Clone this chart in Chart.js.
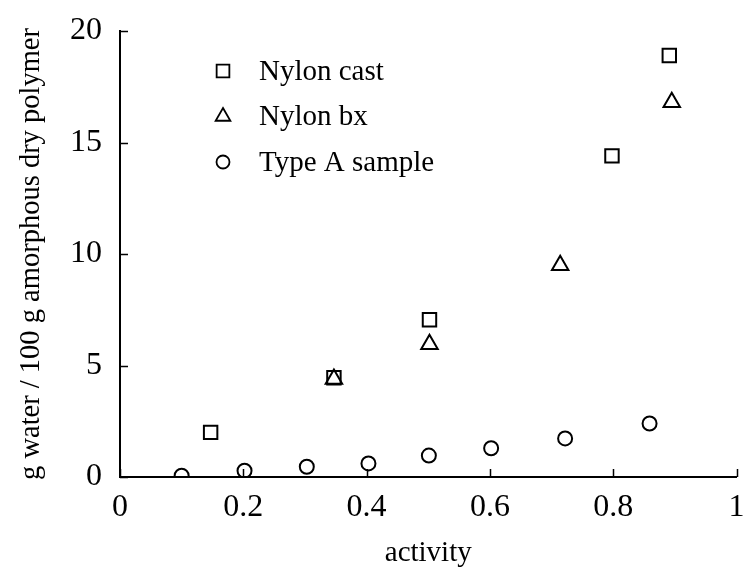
<!DOCTYPE html>
<html>
<head>
<meta charset="utf-8">
<script src="https://cdn.jsdelivr.net/npm/chart.js@4/dist/chart.umd.min.js"></script>
<style>
  html, body { margin: 0; padding: 0; background: #fff; }
  #wrap { width: 748px; height: 571px; }
</style>
</head>
<body>
<div id="wrap"><canvas id="c" width="748" height="571"></canvas></div>
<script>
// ---- data ----
const nylonCastX = [0.147, 0.347, 0.502, 0.798, 0.891];
const nylonCastY = [2.0, 4.45, 7.05, 14.4, 18.9];
const nylonBxX = [0.347, 0.502, 0.714, 0.895];
const nylonBxY = [4.4, 5.95, 9.5, 16.8];
const typeAX = [0.100, 0.202, 0.303, 0.403, 0.501, 0.602, 0.722, 0.859];
const typeAY = [0.06, 0.28, 0.46, 0.61, 0.96, 1.29, 1.73, 2.4];
const seriesNames = ['Nylon cast', 'Nylon bx', 'Type A sample'];
const xTickLabels = ['0', '0.2', '0.4', '0.6', '0.8', '1'];
const yTickLabels = ['0', '5', '10', '15', '20'];
const xTitle = 'activity';
const yTitle = 'g water / 100 g amorphous dry polymer';

const toPts = (xs, ys) => xs.map((x, i) => ({ x: x, y: ys[i] }));
const SERIF = "'Liberation Serif', 'DejaVu Serif', serif";

const legendMarkers = [
  { style: 'rect', radius: 9 },
  { style: 'triangle', radius: 8.5 },
  { style: 'circle', radius: 6.5 }
];

const insideLegend = {
  id: 'insideLegend',
  afterDatasetsDraw(chart) {
    const ctx = chart.ctx;
    ctx.save();
    ctx.lineWidth = 1.8;
    ctx.textBaseline = 'middle';
    ctx.textAlign = 'left';
    const mx = 223, tx = 259, y0 = 71, dy = 45.5;
    chart.data.datasets.forEach((ds, i) => {
      const y = y0 + i * dy;
      ctx.strokeStyle = '#000';
      ctx.fillStyle = 'rgba(0,0,0,0)';
      ctx.lineWidth = 1.8;
      Chart.helpers.drawPoint(ctx, { pointStyle: legendMarkers[i].style, radius: legendMarkers[i].radius, borderWidth: 1.8, rotation: 0 }, mx, y);
      ctx.fillStyle = '#000';
      ctx.font = '29px ' + SERIF;
      ctx.fillText(ds.label, tx, y + 1);
    });
    ctx.restore();
  }
};

const inwardTicks = {
  id: 'inwardTicks',
  afterDraw(chart) {
    const ctx = chart.ctx;
    const xs = chart.scales.x, ys = chart.scales.y;
    const area = chart.chartArea;
    ctx.save();
    ctx.strokeStyle = '#000';
    ctx.lineWidth = 1.5;
    ctx.beginPath();
    ys.ticks.forEach(t => {
      const py = Math.round(ys.getPixelForValue(t.value)) + 0.5;
      ctx.moveTo(area.left, py);
      ctx.lineTo(area.left + 8, py);
    });
    xs.ticks.forEach(t => {
      const px = Math.round(xs.getPixelForValue(t.value)) + 0.5;
      ctx.moveTo(px, area.bottom);
      ctx.lineTo(px, area.bottom - 8);
    });
    ctx.stroke();
    ctx.restore();
  }
};

const mkDs = (label, pts, style, r) => ({
  label: label,
  data: pts,
  pointStyle: style,
  pointRadius: r,
  pointHoverRadius: r,
  pointBorderWidth: 2,
  pointBorderColor: '#000',
  pointBackgroundColor: 'rgba(0,0,0,0)',
  borderColor: '#000',
  backgroundColor: 'rgba(0,0,0,0)',
  showLine: false
});

new Chart(document.getElementById('c'), {
  type: 'scatter',
  data: {
    datasets: [
      mkDs(seriesNames[0], toPts(nylonCastX, nylonCastY), 'rect', 9.5),
      mkDs(seriesNames[1], toPts(nylonBxX, nylonBxY), 'triangle', 9.5),
      mkDs(seriesNames[2], toPts(typeAX, typeAY), 'circle', 7)
    ]
  },
  options: {
    responsive: false,
    animation: false,
    devicePixelRatio: 1,
    layout: { padding: { top: 31, right: 6, left: 0, bottom: 0 } },
    plugins: { legend: { display: false }, tooltip: { enabled: false } },
    scales: {
      x: {
        type: 'linear',
        min: 0, max: 1,
        ticks: {
          stepSize: 0.2,
          color: '#000',
          font: { family: SERIF, size: 32 },
          padding: 11,
          maxRotation: 0,
          callback: (v, i) => xTickLabels[i]
        },
        grid: { display: true, drawOnChartArea: false, drawTicks: false, color: 'rgba(0,0,0,0)' },
        border: { display: true, color: '#000', width: 2 },
        title: { display: true, text: xTitle, color: '#000', font: { family: SERIF, size: 29 }, padding: { top: 0, bottom: 0 } },
        afterFit(s) { s.height = 94; s.paddingRight = 6; s.paddingLeft = 0; }
      },
      y: {
        type: 'linear',
        min: 0, max: 20,
        ticks: {
          stepSize: 5,
          color: '#000',
          font: { family: SERIF, size: 32 },
          padding: 18,
          callback: (v, i) => yTickLabels[i]
        },
        grid: { display: true, drawOnChartArea: false, drawTicks: false, color: 'rgba(0,0,0,0)' },
        border: { display: true, color: '#000', width: 2 },
        title: { display: true, text: yTitle, color: '#000', font: { family: SERIF, size: 28.5 }, padding: { top: 14, bottom: 0 } },
        afterFit(s) { s.width = 120; s.paddingTop = 0; s.paddingBottom = 0; }
      }
    }
  },
  plugins: [insideLegend, inwardTicks]
});
</script>
</body>
</html>
